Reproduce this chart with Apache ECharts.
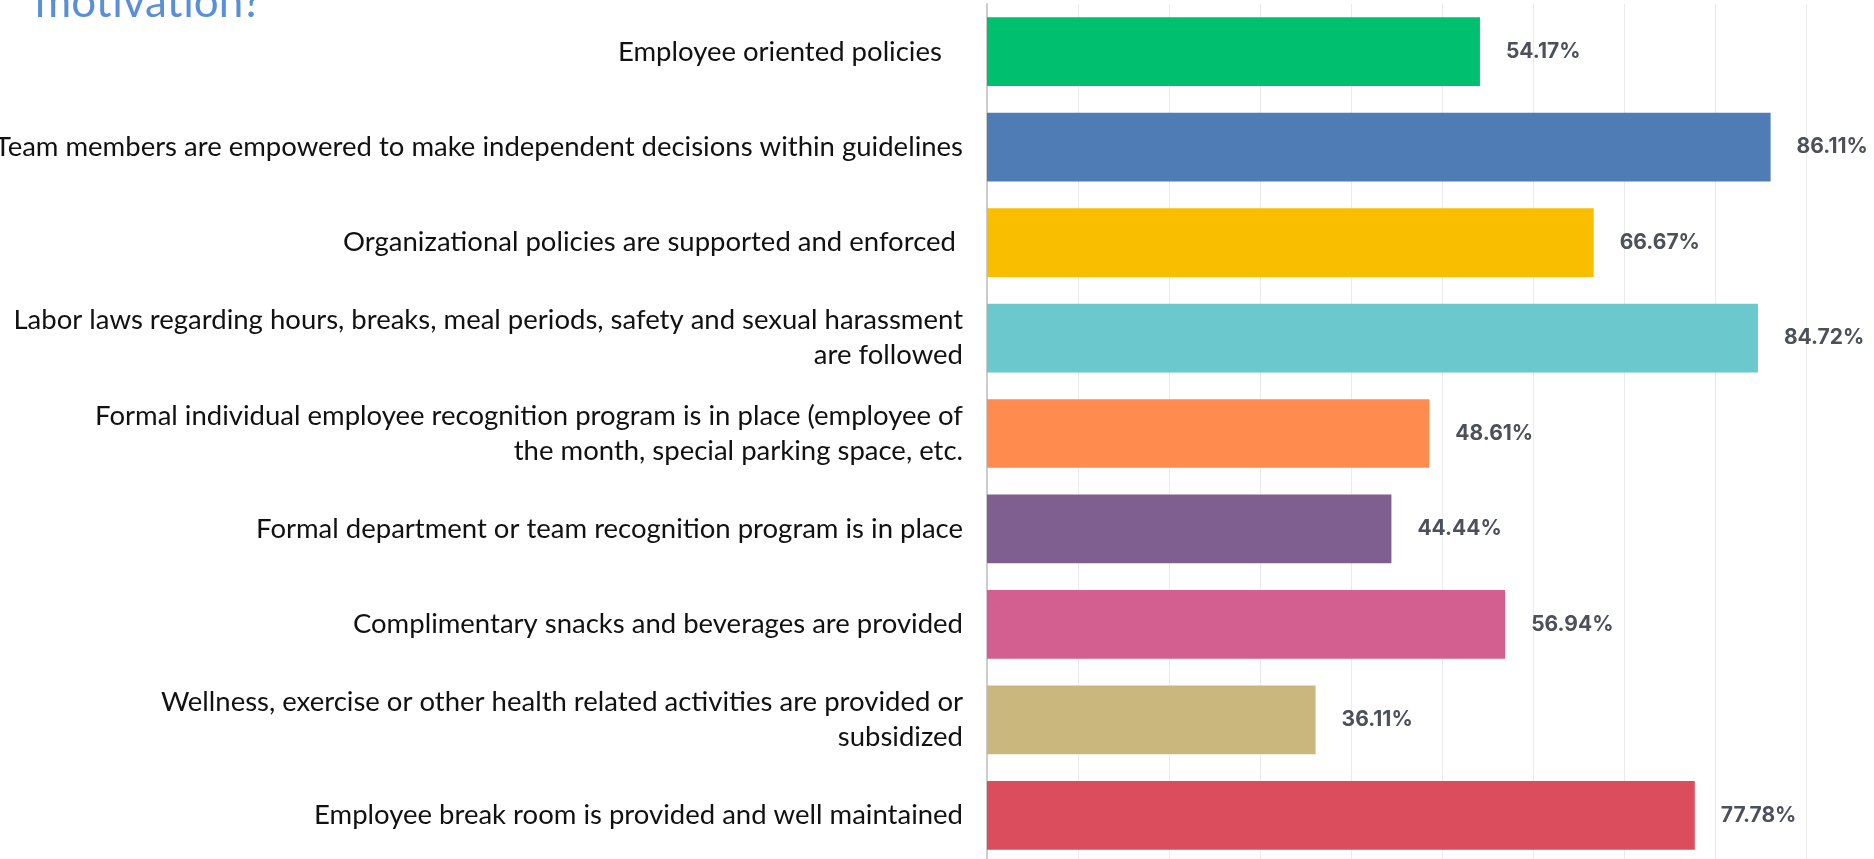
<!DOCTYPE html>
<html>
<head>
<meta charset="utf-8">
<script src="https://cdn.jsdelivr.net/npm/echarts@6/dist/echarts.min.js"></script>
<style>
html,body{margin:0;padding:0;background:#fff;}
#chart{width:1874px;height:859px;}
</style>
</head>
<body>
<div id="chart"></div>
<script>
const categories = [
  "Employee oriented policies   ",
  "Team members are empowered to make independent decisions within guidelines",
  "Organizational policies are supported and enforced ",
  "Labor laws regarding hours, breaks, meal periods, safety and sexual harassment\nare followed",
  "Formal individual employee recognition program is in place (employee of\nthe month, special parking space, etc.",
  "Formal department or team recognition program is in place",
  "Complimentary snacks and beverages are provided",
  "Wellness, exercise or other health related activities are provided or\nsubsidized",
  "Employee break room is provided and well maintained"
];
const values = [54.17, 86.11, 66.67, 84.72, 48.61, 44.44, 56.94, 36.11, 77.78];
const colors = ["#00bf6f", "#507cb6", "#f9be00", "#6bc8cd", "#ff8b4f", "#7f5f90", "#d25f90", "#c9b77d", "#db4d5c"];
const titleText = "motivation?";

const chart = echarts.init(document.getElementById('chart'), null, {renderer: 'canvas'});
chart.setOption({
  animation: false,
  graphic: [{
    type: 'text',
    left: 35,
    top: -19,
    style: {
      text: titleText,
      font: '400 44px Lato',
      fill: '#5a8ed6'
    }
  }],
  grid: {left: 987, right: 68, top: 4, bottom: -4, containLabel: false, outerBoundsMode: 'none'},
  xAxis: {
    type: 'value',
    min: 0,
    max: 90,
    interval: 10,
    axisLabel: {show: false},
    axisLine: {show: false},
    axisTick: {show: false},
    splitLine: {show: true, lineStyle: {color: '#ebebeb', width: 1}}
  },
  yAxis: {
    type: 'category',
    inverse: true,
    data: categories,
    axisTick: {show: false},
    axisLine: {show: true, lineStyle: {color: '#cccccc', width: 2}},
    axisLabel: {
      fontFamily: 'Lato',
      fontSize: 27.5,
      color: '#111111',
      margin: 24,
      lineHeight: 35,
      align: 'right'
    }
  },
  series: [{
    type: 'bar',
    data: values.map((v, i) => ({value: v, itemStyle: {color: colors[i]}})),
    barCategoryGap: '28%',
    label: {
      show: true,
      position: 'right',
      distance: 26,
      formatter: p => p.value.toFixed(2) + '%',
      fontFamily: 'Inter',
      fontWeight: 'bold',
      fontSize: 21,
      color: '#4b5059'
    }
  }]
});
</script>
</body>
</html>
